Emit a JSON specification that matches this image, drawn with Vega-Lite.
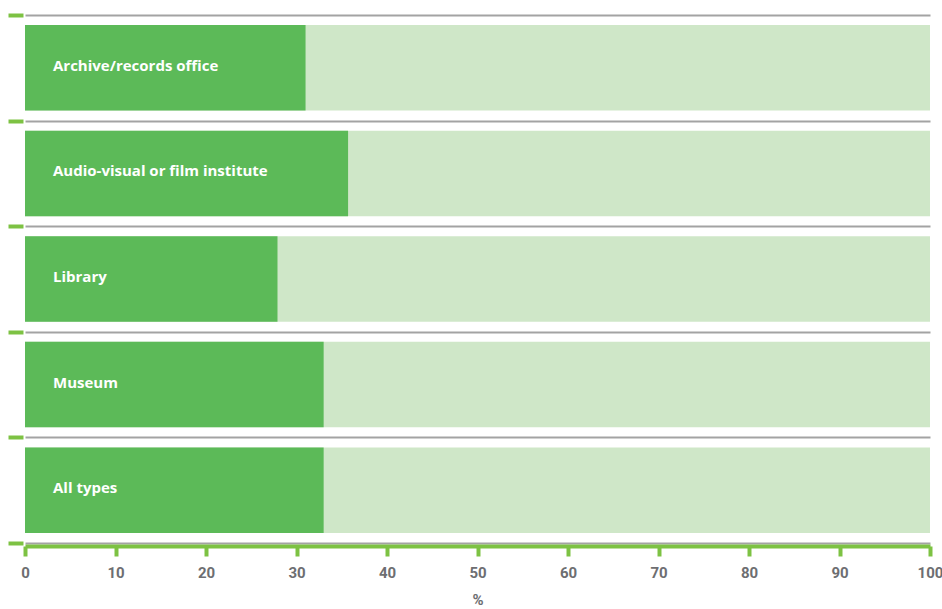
{
  "$schema": "https://vega.github.io/schema/vega-lite/v6.json",
  "width": 905,
  "height": 528,
  "autosize": "none",
  "padding": {"left": 25, "top": 15, "right": 12, "bottom": 66},
  "background": "white",
  "config": {"view": {"stroke": null}, "font": "Roboto"},
  "data": {
    "values": [
      {"type": "Archive/records office", "pct": 31},
      {"type": "Audio-visual or film institute", "pct": 35.7},
      {"type": "Library", "pct": 27.9},
      {"type": "Museum", "pct": 33},
      {"type": "All types", "pct": 33}
    ]
  },
  "encoding": {
    "y": {
      "field": "type",
      "type": "nominal",
      "sort": null,
      "scale": {"paddingInner": 0, "paddingOuter": 0},
      "axis": {
        "title": null,
        "labels": false,
        "domain": false,
        "tickBand": "extent",
        "tickSize": 15,
        "tickWidth": 4,
        "tickColor": "#7dc243",
        "offset": 2,
        "grid": true,
        "gridColor": "#a3a3a3",
        "gridWidth": 2
      }
    }
  },
  "layer": [
    {
      "mark": {"type": "bar", "color": "#cfe7c8", "height": {"band": 0.81}},
      "encoding": {
        "x": {
          "datum": 0,
          "type": "quantitative",
          "scale": {"domain": [0, 100], "nice": false},
          "axis": {
            "title": "%",
            "values": [0, 10, 20, 30, 40, 50, 60, 70, 80, 90, 100],
            "grid": false,
            "offset": 3,
            "labelFlush": false,
            "domainColor": "#7dc243",
            "domainWidth": 4,
            "tickColor": "#7dc243",
            "tickWidth": 4,
            "tickSize": 10,
            "labelColor": "#6d6e71",
            "labelFont": "Roboto",
            "labelFontWeight": "bold",
            "labelFontSize": 15,
            "labelPadding": 9,
            "titleColor": "#6d6e71",
            "titleFont": "Roboto",
            "titleFontWeight": "bold",
            "titleFontSize": 15,
            "titlePadding": 12
          }
        },
        "x2": {"datum": 100}
      }
    },
    {
      "mark": {"type": "bar", "color": "#5cba58", "height": {"band": 0.81}},
      "encoding": {
        "x": {"field": "pct", "type": "quantitative"},
        "x2": {"datum": 0}
      }
    },
    {
      "mark": {
        "type": "text",
        "align": "left",
        "baseline": "middle",
        "dx": 28,
        "dy": -2,
        "color": "white",
        "font": "Open Sans",
        "fontWeight": "bold",
        "fontSize": 15
      },
      "encoding": {
        "x": {"datum": 0, "type": "quantitative"},
        "text": {"field": "type"}
      }
    }
  ]
}
